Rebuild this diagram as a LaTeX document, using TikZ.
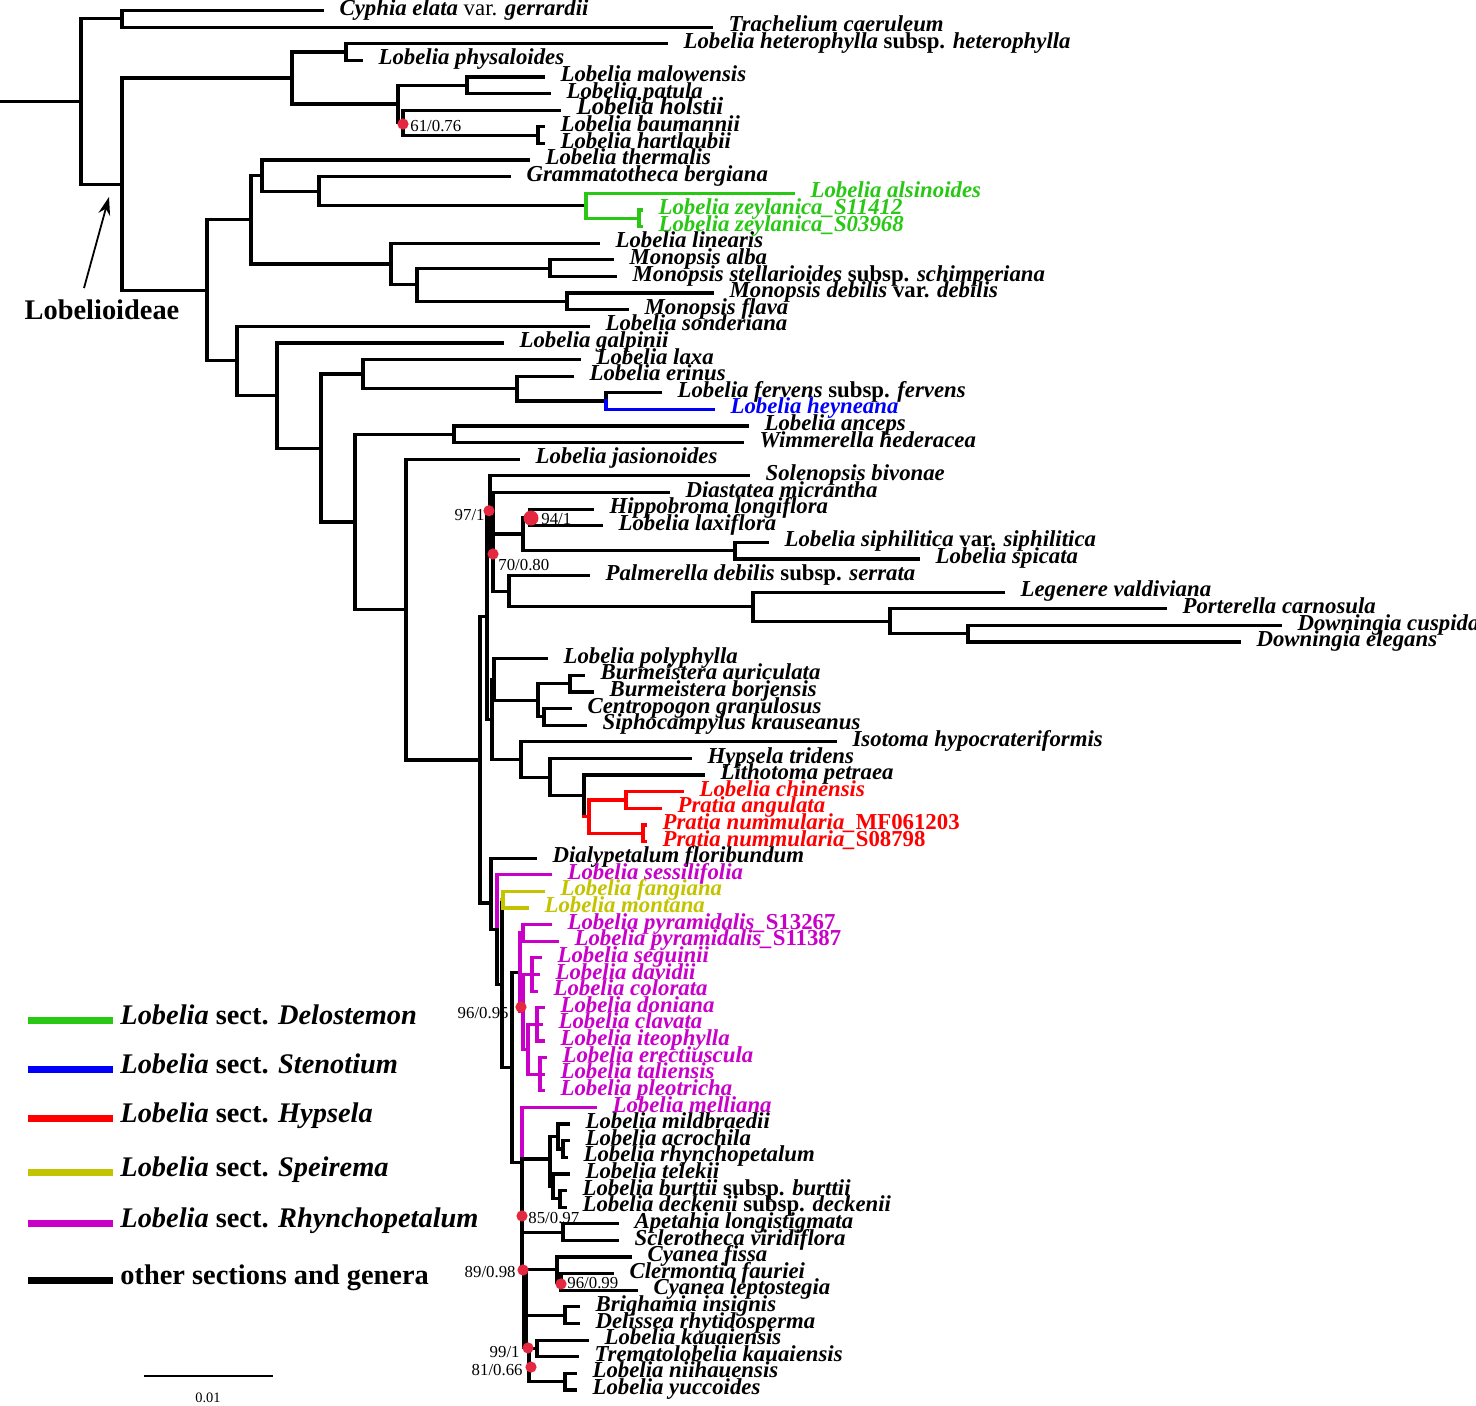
\documentclass[tikz,border=0pt]{standalone}
\usepackage{fontspec}
\setmainfont{Liberation Serif}
\usetikzlibrary{arrows.meta}
\definecolor{cgreen}{RGB}{40,200,20}
\definecolor{cblue}{RGB}{0,0,250}
\definecolor{cred}{RGB}{255,0,0}
\definecolor{cyel}{RGB}{195,195,0}
\definecolor{cmag}{RGB}{200,0,200}
\definecolor{cdot}{RGB}{228,40,64}
\tikzset{
 br/.style={line width=1.6pt, line cap=rect},
 lab/.style={anchor=mid west, inner sep=0pt, xshift=8pt, font=\fontsize{11.4}{12}\selectfont\bfseries\itshape},
 sup/.style={inner sep=0pt, font=\fontsize{8.4}{9}\selectfont},
 sdot/.style={circle, fill=cdot, inner sep=0pt, minimum size=5.6pt},
 legline/.style={line width=3.5pt},
 legt/.style={anchor=mid west, inner sep=0pt, font=\fontsize{14.2}{16}\selectfont\bfseries},
}
\newcommand\trH[4][]{\draw[br,#1] (#2,#4) -- (#3,#4);}
\newcommand\trV[4][]{\draw[br,#1] (#2,#3) -- (#2,#4);}
\newcommand\trL[6][]{\draw[br,#1] (#3,#5) -- (#4,#5) node[lab,#1] (#2) {#6};}
\begin{document}
\begin{tikzpicture}[x=0.5pt,y=-8.31pt]
\useasboundingbox (0pt,0pt) rectangle (738pt,-702.5pt);
\fill[white] (0pt,0pt) rectangle (738pt,-702.5pt);
\begin{scope}[yshift=-5.25pt]
% root and outgroups
\trH{0}{81}{5.475}
\trV{81}{0.5}{10.45}
\trH{81}{122}{0.5}
\trV{122}{0}{1}
\trL{l0}{122}{322}{0}{Cyphia elata {\upshape\mdseries var.} gerrardii}
\trL{l1}{122}{711}{1}{Trachelium caeruleum}
% Lobelioideae
\trH{81}{122}{10.45}
\trV{122}{4.06}{16.84}
\trH{122}{292}{4.06}
\trV{292}{2.5}{5.625}
\trH{292}{346}{2.5}
\trV{346}{2}{3}
\trL{l2}{346}{666}{2}{Lobelia heterophylla {\upshape subsp.} heterophylla}
\trL{l3}{346}{361}{3}{Lobelia physaloides}
\trH{292}{398}{5.625}
\trV{398}{4.5}{6.75}
\trH{398}{467}{4.5}
\trV{467}{4}{5}
\trL{l4}{467}{543}{4}{Lobelia malowensis}
\trL{l5}{467}{549}{5}{Lobelia patula}
\trH{398}{403}{6.75}
\trV{403}{6}{7.5}
\trL{l6}{403}{559}{6}{\fontsize{12.4}{13}\selectfont Lobelia holstii}
\trH{403}{538}{7.5}
\trV{538}{7}{8}
\trL{l7}{538}{543}{7}{Lobelia baumannii}
\trL{l8}{538}{543}{8}{Lobelia hartlaubii}
% Q
\trH{122}{207}{16.84}
\trV{207}{12.59}{21.08}
\trH{207}{251}{12.59}
\trV{251}{9.94}{15.25}
\trH{251}{262}{9.94}
\trV{262}{9}{10.875}
\trL{l9}{262}{528}{9}{Lobelia thermalis}
\trH{262}{319}{10.875}
\trV{319}{10}{11.75}
\trL{l10}{319}{509}{10}{Grammatotheca bergiana}
\trH{319}{586}{11.75}
\trV[cgreen]{586}{11}{12.5}
\trL[cgreen]{l11}{586}{793}{11}{Lobelia alsinoides}
\trH[cgreen]{586}{639}{12.5}
\trV[cgreen]{639}{12}{13}
\trL[cgreen]{l12}{639}{641}{12}{Lobelia zeylanica\_S11412}
\trL[cgreen]{l13}{639}{641}{13}{Lobelia zeylanica\_S03968}
\trH{251}{391}{15.25}
\trV{391}{14}{16.5}
\trL{l14}{391}{598}{14}{Lobelia linearis}
\trH{391}{417}{16.5}
\trV{417}{15.5}{17.5}
\trH{417}{550}{15.5}
\trV{550}{15}{16}
\trL{l15}{550}{612}{15}{Monopsis alba}
\trL{l16}{550}{615}{16}{Monopsis stellarioides {\upshape subsp.} schimperiana}
\trH{417}{567}{17.5}
\trV{567}{17}{18}
\trL{l17}{567}{712}{17}{Monopsis debilis {\upshape var.} debilis}
\trL{l18}{567}{627}{18}{Monopsis flava}
% S
\trH{207}{237}{21.08}
\trV{237}{19}{23.16}
\trL{l19}{237}{588}{19}{Lobelia sonderiana}
\trH{237}{277}{23.16}
\trV{277}{20}{26.33}
\trL{l20}{277}{502}{20}{Lobelia galpinii}
\trH{277}{321}{26.33}
\trV{321}{21.875}{30.78}
\trH{321}{363}{21.875}
\trV{363}{21}{22.75}
\trL{l21}{363}{579}{21}{Lobelia laxa}
\trH{363}{517}{22.75}
\trV{517}{22}{23.5}
\trL{l22}{517}{572}{22}{Lobelia erinus}
\trH{517}{606}{23.5}
\trV{606}{23}{23.5}
\trV[cblue]{606}{23.5}{24}
\trL{l23}{606}{660}{23}{Lobelia fervens {\upshape subsp.} fervens}
\trL[cblue]{l24}{606}{713}{24}{Lobelia heyneana}
\trH{321}{355}{30.78}
\trV{355}{25.5}{36.05}
\trH{355}{454}{25.5}
\trV{454}{25}{26}
\trL{l25}{454}{747}{25}{Lobelia anceps}
\trL{l26}{454}{742}{26}{Wimmerella hederacea}
\trH{355}{406}{36.05}
\trV{406}{27}{45.1}
\trL{l27}{406}{518}{27}{Lobelia jasionoides}
\trH{406}{480}{45.1}
\trV{480}{36.48}{53.7}
% Z
\trH{480}{487}{36.48}
\trV{487}{30.3}{42.66}
\trH{487}{490}{30.3}
\trV{490}{28}{32.6}
\trL{l28}{490}{748}{28}{Solenopsis bivonae}
\trH{490}{493}{32.6}
\trV{493}{29}{34.94}
\trL{l29}{493}{668}{29}{Diastatea micrantha}
\trH{493}{523}{31.5}
\trV{523}{30.5}{32.5}
\trH{523}{530}{30.5}
\trV{530}{30}{31}
\trL{l30}{530}{592}{30}{Hippobroma longiflora}
\trL{l31}{530}{601}{31}{Lobelia laxiflora}
\trH{523}{735}{32.5}
\trV{735}{32}{33}
\trL{l32}{735}{767}{32}{Lobelia siphilitica {\upshape var.} siphilitica}
\trL{l33}{735}{918}{33}{Lobelia spicata}
\trH{493}{509}{34.94}
\trV{509}{34}{35.875}
\trL{l34}{509}{588}{34}{Palmerella debilis {\upshape subsp.} serrata}
\trH{509}{753}{35.875}
\trV{753}{35}{36.75}
\trL{l35}{753}{1003}{35}{Legenere valdiviana}
\trH{753}{890}{36.75}
\trV{890}{36}{37.5}
\trL{l36}{890}{1165}{36}{Porterella carnosula}
\trH{890}{968}{37.5}
\trV{968}{37}{38}
\trL{l37}{968}{1280}{37}{Downingia cuspidata}
\trL{l38}{968}{1239}{38}{Downingia elegans}
\trH{487}{492}{42.66}
\trV{492}{40.25}{45.06}
\trH{492}{494}{40.25}
\trV{494}{39}{41.5}
\trL{l39}{494}{546}{39}{Lobelia polyphylla}
\trH{494}{538}{41.5}
\trV{538}{40.5}{42.5}
\trH{538}{570}{40.5}
\trV{570}{40}{41}
\trL{l40}{570}{583}{40}{Burmeistera auriculata}
\trL{l41}{570}{592}{41}{Burmeistera borjensis}
\trH{538}{544}{42.5}
\trV{544}{42}{43}
\trL{l42}{544}{570}{42}{Centropogon granulosus}
\trL{l43}{544}{585}{43}{Siphocampylus krauseanus}
\trH{492}{521}{45.06}
\trV{521}{44}{46.125}
\trL{l44}{521}{835}{44}{Isotoma hypocrateriformis}
\trH{521}{550}{46.125}
\trV{550}{45}{47.25}
\trL{l45}{550}{690}{45}{Hypsela tridens}
\trH{550}{584}{47.25}
\trV{584}{46}{48.5}
\trL{l46}{584}{703}{46}{Lithotoma petraea}
\trH[cred]{584}{589}{48.5}
\trV[cred]{589}{47.5}{49.5}
\trH[cred]{589}{626}{47.5}
\trV[cred]{626}{47}{48}
\trL[cred]{l47}{626}{682}{47}{Lobelia chinensis}
\trL[cred]{l48}{626}{660}{48}{Pratia angulata}
\trH[cred]{589}{643}{49.5}
\trV[cred]{643}{49}{50}
\trL[cred]{l49}{643}{645}{49}{Pratia nummularia\_{\upshape MF061203}}
\trL[cred]{l50}{643}{645}{50}{Pratia nummularia\_{\upshape S08798}}
% Z2
\trH{480}{491}{53.7}
\trV{491}{51}{55.3}
\trL{l51}{491}{535}{51}{Dialypetalum floribundum}
\trH{491}{497}{55.3}
\trV[cmag]{497}{52}{55.3}
\trV{497}{55.3}{58.6}
\trL[cmag]{l52}{497}{550}{52}{Lobelia sessilifolia}
\trH{497}{502}{58.6}
\trV{502}{53.5}{63.6}
\trH[cyel]{502}{503}{53.5}
\trV[cyel]{503}{53}{54}
\trL[cyel]{l53}{503}{543}{53}{Lobelia fangiana}
\trL[cyel]{l54}{503}{527}{54}{Lobelia montana}
\trH{502}{512}{63.6}
\trV{512}{57.9}{69.3}
\trH{512}{520}{57.9}
\trV[cmag]{520}{55.5}{60.25}
\trH[cmag]{520}{523}{55.5}
\trV[cmag]{523}{55}{56}
\trL[cmag]{l55}{523}{550}{55}{Lobelia pyramidalis\_{\upshape S13267}}
\trL[cmag]{l56}{523}{557}{56}{Lobelia pyramidalis\_{\upshape S11387}}
\trH[cmag]{520}{523}{60.25}
\trV[cmag]{523}{58}{62.5}
\trH[cmag]{523}{532}{58}
\trV[cmag]{532}{57}{59}
\trL[cmag]{l57}{532}{540}{57}{Lobelia seguinii}
\trL[cmag]{l58}{532}{538}{58}{Lobelia davidii}
\trL[cmag]{l59}{532}{536}{59}{Lobelia colorata}
\trH[cmag]{523}{528}{62.5}
\trV[cmag]{528}{61}{64}
\trH[cmag]{528}{537}{61}
\trV[cmag]{537}{60}{62}
\trL[cmag]{l60}{537}{543}{60}{Lobelia doniana}
\trL[cmag]{l61}{537}{541}{61}{Lobelia clavata}
\trL[cmag]{l62}{537}{543}{62}{Lobelia iteophylla}
\trH[cmag]{528}{540}{64}
\trV[cmag]{540}{63}{65}
\trL[cmag]{l63}{540}{545}{63}{Lobelia erectiuscula}
\trL[cmag]{l64}{540}{543}{64}{Lobelia taliensis}
\trL[cmag]{l65}{540}{543}{65}{Lobelia pleotricha}
% M5
\trH{512}{522}{69.3}
\trV[cmag]{522}{66}{69.3}
\trL[cmag]{l66}{522}{595}{66}{Lobelia melliana}
\trV{522}{69.3}{75.9}
\trH{522}{550}{69.1}
\trV{550}{67.75}{70.75}
\trH{550}{558}{67.75}
\trV{558}{67}{68.5}
\trL{l67}{558}{568}{67}{Lobelia mildbraedii}
\trH{558}{563}{68.5}
\trV{563}{68}{69}
\trL{l68}{563}{568}{68}{Lobelia acrochila}
\trL{l69}{563}{566}{69}{Lobelia rhynchopetalum}
\trH{550}{553}{70.75}
\trV{553}{70}{71.5}
\trL{l70}{553}{568}{70}{Lobelia telekii}
\trH{553}{560}{71.5}
\trV{560}{71}{72}
\trL{l71}{560}{565}{71}{Lobelia burttii {\upshape subsp.} burttii}
\trL{l72}{560}{565}{72}{Lobelia deckenii {\upshape subsp.} deckenii}
\trH{522}{563}{73.5}
\trV{563}{73}{74}
\trL{l73}{563}{617}{73}{Apetahia longistigmata}
\trL{l74}{563}{617}{74}{Sclerotheca viridiflora}
\trH{523}{557}{75.75}
\trV{557}{75}{76.5}
\trL{l75}{557}{630}{75}{Cyanea fissa}
\trH{557}{561}{76.5}
\trV{561}{76}{77}
\trL{l76}{561}{612}{76}{Clermontia fauriei}
\trL{l77}{561}{636}{77}{Cyanea leptostegia}
\draw[br,line width=2.6pt] (525,75.9) -- (525,80.4);
\trH{525}{565}{78.5}
\trV{565}{78}{79}
\trL{l78}{565}{578}{78}{Brighamia insignis}
\trL{l79}{565}{578}{79}{Delissea rhytidosperma}
\trH{528}{537}{80.5}
\trV{537}{80}{81}
\trL{l80}{537}{587}{80}{Lobelia kauaiensis}
\trL{l81}{537}{577}{81}{Trematolobelia kauaiensis}
\trV{529}{80.4}{82.5}
\trH{529}{565}{82.5}
\trV{565}{82}{83}
\trL{l82}{565}{575}{82}{Lobelia niihauensis}
\trL{l83}{565}{575}{83}{Lobelia yuccoides}
% support dots and values
\node[sdot] (d1) at (403,6.83) {};
\node[sup,anchor=west] (s1) at (410,6.95) {61/0.76};
\node[sdot] (d2) at (489,30.1) {};
\node[sup,anchor=east] (s2) at (485,30.35) {97/1};
\node[sdot,minimum width=7.5pt] (d3) at (531,30.54) {};
\node[sup,anchor=west] (s3) at (541,30.6) {94/1};
\node[sdot] (d4) at (493,32.7) {};
\node[sup,anchor=west] (s4) at (498,33.35) {70/0.80};
\node[sdot] (d5) at (521,59.96) {};
\node[sup,anchor=east] (s5) at (509,60.3) {96/0.95};
\node[sdot] (d6) at (522,72.53) {};
\node[sup,anchor=west] (s6) at (528,72.65) {85/0.97};
\node[sdot] (d7) at (523,75.78) {};
\node[sup,anchor=east] (s7) at (516,75.9) {89/0.98};
\node[sdot] (d8) at (561,76.62) {};
\node[sup,anchor=west] (s8) at (567,76.55) {96/0.99};
\node[sdot] (d9) at (528,80.47) {};
\node[sup,anchor=east] (s9) at (520,80.7) {99/1};
\node[sdot] (d10) at (531,81.62) {};
\node[sup,anchor=east] (s10) at (523,81.8) {81/0.66};
% Lobelioideae
\node[legt,anchor=center] (lob) at (102,18.02) {Lobelioideae};
\coordinate (arrA) at (84,16.7);
\coordinate (arrB) at (109,11.22);
\draw[line width=0.9pt,-{Stealth[length=9pt,width=6pt]}] (arrA) -- (arrB);
% legend
\coordinate (g1a) at (28,60.74); \coordinate (g1b) at (113,60.74);
\draw[legline,cgreen] (g1a) -- (g1b);
\node[legt] (t1) at (120,60.74) {\textit{Lobelia} sect. \textit{Delostemon}};
\coordinate (g2a) at (28,63.69); \coordinate (g2b) at (113,63.69);
\draw[legline,cblue] (g2a) -- (g2b);
\node[legt] (t2) at (120,63.69) {\textit{Lobelia} sect. \textit{Stenotium}};
\coordinate (g3a) at (28,66.64); \coordinate (g3b) at (113,66.64);
\draw[legline,cred] (g3a) -- (g3b);
\node[legt] (t3) at (120,66.64) {\textit{Lobelia} sect. \textit{Hypsela}};
\coordinate (g4a) at (28,69.9); \coordinate (g4b) at (113,69.9);
\draw[legline,cyel] (g4a) -- (g4b);
\node[legt] (t4) at (120,69.9) {\textit{Lobelia} sect. \textit{Speirema}};
\coordinate (g5a) at (28,72.96); \coordinate (g5b) at (113,72.96);
\draw[legline,cmag] (g5a) -- (g5b);
\node[legt] (t5) at (120,72.96) {\textit{Lobelia} sect. \textit{Rhynchopetalum}};
\coordinate (g6a) at (28,76.4); \coordinate (g6b) at (113,76.4);
\draw[legline,black] (g6a) -- (g6b);
\node[legt] (t6) at (120,76.4) {other sections and genera};
% scale bar
\coordinate (sbA) at (144,82.16); \coordinate (sbB) at (273,82.16);
\draw[line width=1pt] (sbA) -- (sbB);
\node[inner sep=0pt,font=\fontsize{7.2}{8}\selectfont] (sbt) at (208,83.5) {0.01};
\end{scope}
\end{tikzpicture}
\end{document}
